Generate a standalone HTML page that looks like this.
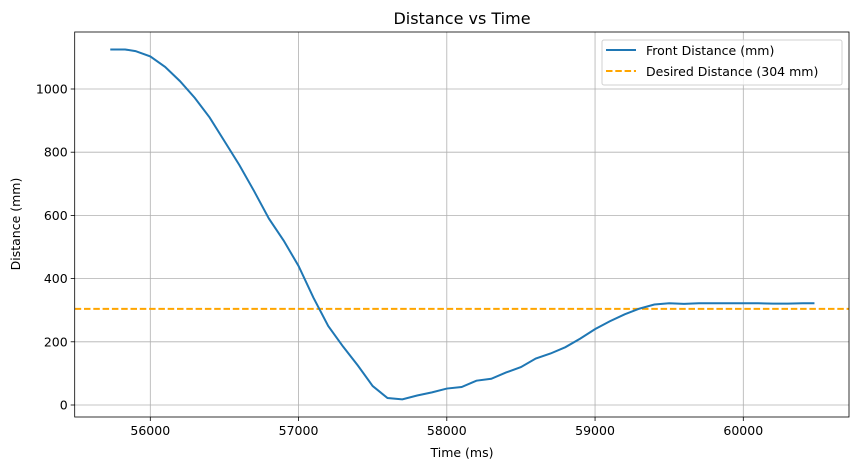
<!DOCTYPE html>
<html><head><meta charset="utf-8"><style>body{margin:0;background:#fff}svg{font-family:"DejaVu Sans","Liberation Sans",sans-serif}</style></head>
<body>
<svg id="chart" width="859" height="470"></svg>
<script>
const times=[55730,55830,55900,56000,56100,56200,56300,56400,56500,56600,56700,56800,56900,57000,57100,57200,57300,57400,57500,57600,57700,57800,57900,58000,58100,58200,58300,58400,58500,58600,58700,58800,58900,59000,59100,59200,59300,59400,59500,59600,59700,59800,59900,60000,60100,60200,60300,60400,60480];
const distances=[1125,1125,1120,1103,1070,1025,972,910,835,760,677,590,520,440,340,250,185,125,60,22,18,30,40,52,57,77,83,103,120,147,163,183,210,240,265,287,305,318,322,320,322,322,322,322,322,321,321,322,322];
const desired=[304];
const xTicks=[56000,57000,58000,59000,60000];
const yTicks=[0,200,400,600,800,1000];
const NS='http://www.w3.org/2000/svg';
const svg=document.getElementById('chart');
const L=74.7,R=849,T=32,B=417;
const xs=v=>150.3+(v-56000)*0.14825;
const ys=v=>405-(v)*0.316;
function mk(tag,attrs,parent){const e=document.createElementNS(NS,tag);for(const k in attrs)e.setAttribute(k,attrs[k]);(parent||svg).appendChild(e);return e;}
xTicks.forEach(t=>{const g=mk('line',{x1:xs(t),x2:xs(t),y1:T,y2:B,stroke:'#b0b0b0','stroke-width':0.8});


mk('line',{x1:xs(t),x2:xs(t),y1:B,y2:B+4,stroke:'#000','stroke-width':0.8});
const tx=mk('text',{x:xs(t),y:B+18,'text-anchor':'middle','font-size':12.5});tx.textContent=t;

});
yTicks.forEach(t=>{const g=mk('line',{x1:L,x2:R,y1:ys(t),y2:ys(t),stroke:'#b0b0b0','stroke-width':0.8});


mk('line',{x1:L-4,x2:L,y1:ys(t),y2:ys(t),stroke:'#000','stroke-width':0.8});
const tx=mk('text',{x:L-7,y:ys(t)+4.5,'text-anchor':'end','font-size':12.5});tx.textContent=t;

});
const dl=mk('line',{x1:L,x2:R,y1:ys(desired[0]),y2:ys(desired[0]),stroke:'#ffa500','stroke-width':2,'stroke-dasharray':'6.5,2.8'});


const pl=mk('polyline',{points:times.map((t,i)=>xs(t)+','+ys(distances[i])).join(' '),fill:'none',stroke:'#1f77b4','stroke-width':2});


const fr=mk('rect',{x:L,y:T,width:R-L,height:B-T,fill:'none',stroke:'#000','stroke-width':0.8});


</script>
<svg style="position:absolute;left:0;top:0" width="859" height="470">
<text x="462" y="24" text-anchor="middle" font-size="16">Distance vs Time</text>
<text x="462" y="457" text-anchor="middle" font-size="12.5">Time (ms)</text>
<text transform="translate(20,224) rotate(-90)" text-anchor="middle" font-size="12.5">Distance (mm)</text>
<g>
<rect x="602" y="40" width="240" height="45" rx="2" fill="#fff" fill-opacity="0.8" stroke="#d0d0d0"/>
<line x1="606" x2="636" y1="50" y2="50" stroke="#1f77b4" stroke-width="2"/>
<text x="646" y="55" font-size="12.5">Front Distance (mm)</text>
<line x1="606" x2="636" y1="71" y2="71" stroke="#ffa500" stroke-width="2" stroke-dasharray="6.5,2.8"/>
<text x="646" y="76" font-size="12.5">Desired Distance (304 mm)</text>
</g>
</svg>
</body></html>
